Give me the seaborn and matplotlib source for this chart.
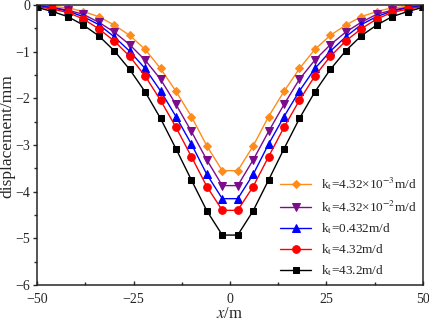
import numpy as np
import pandas as pd
import matplotlib
matplotlib.use("Agg")
import matplotlib.pyplot as plt
import seaborn as sns
from matplotlib.ticker import MultipleLocator

# half-profile positions (left side); right side mirrors
x_left = [-50, -46, -42, -38, -34, -30, -26, -22, -18, -14, -10, -6, -2]
orange_left = [-0.01, -0.03, -0.06, -0.14, -0.25, -0.43, -0.65, -0.95, -1.36, -1.85, -2.39, -3.02, -3.55]
purple_left = [-0.02, -0.05, -0.11, -0.20, -0.37, -0.58, -0.85, -1.18, -1.59, -2.13, -2.71, -3.32, -3.87]
blue_left = [-0.02, -0.06, -0.13, -0.25, -0.42, -0.68, -0.99, -1.36, -1.84, -2.39, -2.98, -3.63, -4.15]
red_left = [-0.03, -0.09, -0.16, -0.30, -0.51, -0.77, -1.10, -1.52, -2.04, -2.62, -3.25, -3.89, -4.40]
black_left = [-0.05, -0.14, -0.25, -0.43, -0.66, -0.98, -1.38, -1.86, -2.43, -3.08, -3.75, -4.41, -4.93]

labels = [r"k$_\mathrm{t}$=4.32×10$^{-3}$m/d",
          r"k$_\mathrm{t}$=4.32×10$^{-2}$m/d",
          r"k$_\mathrm{t}$=0.432m/d",
          r"k$_\mathrm{t}$=4.32m/d",
          r"k$_\mathrm{t}$=43.2m/d"]
colors = ["#FF8C1A", "#7B0C8C", "#0000FF", "#FF0000", "#000000"]
markers = ["D", "v", "^", "o", "s"]
msizes = [4.5, 5.5, 5.5, 5.5, 5.0]

x_full = x_left + [-v for v in x_left[::-1]]
rows = []
for lab, ys in zip(labels, [orange_left, purple_left, blue_left, red_left, black_left]):
    y_full = ys + ys[::-1]
    for xv, yv in zip(x_full, y_full):
        rows.append({"x": xv, "y": yv, "k": lab})
df = pd.DataFrame(rows)

sns.set_style("ticks")
plt.rcParams['font.family'] = ['Liberation Serif', 'DejaVu Serif']
plt.rcParams['mathtext.fontset'] = 'stix'

fig = plt.figure(figsize=(4.29, 3.22), dpi=100)
ax = fig.add_axes([37/429, 1-285/322, (423-37)/429, (285-5)/322])

sns.lineplot(data=df, x="x", y="y", hue="k", style="k", hue_order=labels, style_order=labels,
             palette=colors, markers=markers, dashes=False, markersize=5, linewidth=1.0,
             ax=ax)
for line, c, ms in zip(ax.lines, colors, msizes):
    line.set_markeredgecolor(c)
    line.set_markersize(ms)

ax.set_xlim(-50, 50)
ax.set_ylim(-6, 0)
ax.xaxis.set_major_locator(MultipleLocator(25))
ax.xaxis.set_minor_locator(MultipleLocator(12.5))
ax.yaxis.set_major_locator(MultipleLocator(1))
ax.yaxis.set_minor_locator(MultipleLocator(0.5))
ax.tick_params(axis='x', which='both', direction='in', labelsize=10, pad=6)
ax.tick_params(axis='y', which='both', direction='out', labelsize=10, pad=2)
ax.tick_params(which='major', length=3, width=1)
ax.tick_params(which='minor', length=2.5, width=1)
for s in ax.spines.values():
    s.set_linewidth(1.1)

ax.set_xlabel(r"$\it{x}$/m", fontsize=12, labelpad=0)
ax.set_ylabel("displacement/mm", fontsize=12.5)
ax.yaxis.set_label_coords(-0.055, 0.53)

leg = ax.legend(loc="lower right", bbox_to_anchor=(1.0, 0.0), frameon=False, fontsize=9.5,
                handlelength=2.3, labelspacing=0.47, borderaxespad=0.1, handletextpad=0.75)
for h, c, ms in zip(leg.legend_handles, colors, msizes):
    h.set_markeredgecolor(c)
    h.set_markersize(ms)

fig.savefig("out.png", dpi=100)
